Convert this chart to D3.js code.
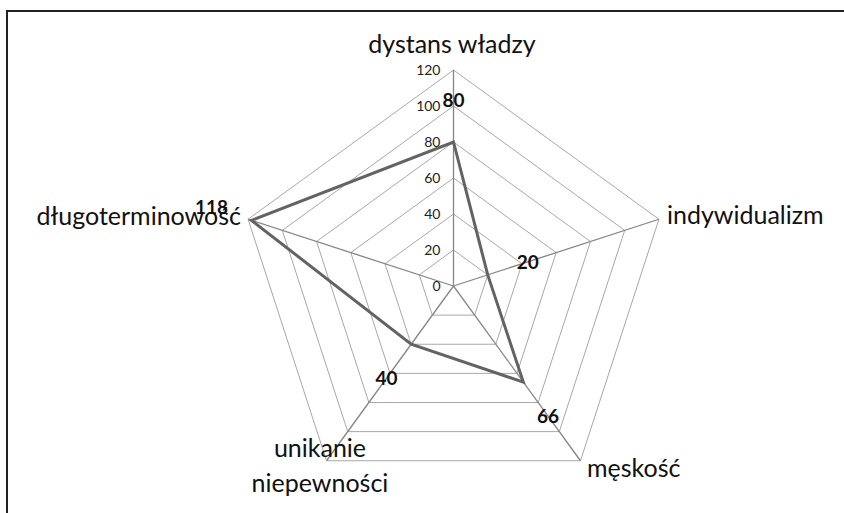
<!DOCTYPE html>
<html>
<head>
<meta charset="utf-8">
<script src="https://cdn.jsdelivr.net/npm/d3@7"></script>
<style>
  body { margin: 0; background: #fff; }
  text { font-family: Lato, "Open Sans", sans-serif; }
</style>
</head>
<body>
<div id="chart"></div>
<script>
// Radar chart - Hofstede dimensions

var categories = ['dystans władzy', 'indywidualizm', 'męskość', 'unikanie niepewności', 'długoterminowość'];
var values = [80, 20, 66, 40, 118];
var tickValues = [0, 20, 40, 60, 80, 100, 120];

var width = 844;
var height = 513;
var cx = 453.5;
var cy = 286;
var radius = 216;

var svg = d3.select('#chart')
    .append('svg')
    .attr('width', width)
    .attr('height', height);

// frame
svg.append('path')
    .attr('d', 'M7,' + height + ' V11 H' + width)
    .attr('fill', 'none')
    .attr('stroke', '#222')
    .attr('stroke-width', 2);

var r = d3.scaleLinear().domain([0, 120]).range([0, radius]);
var angle = d3.scaleLinear().domain([0, categories.length]).range([0, 2 * Math.PI]);

function point(i, v) {
    var a = angle(i);
    return [cx + r(v) * Math.sin(a), cy - r(v) * Math.cos(a)];
}

var g = svg.append('g');

// grid rings
tickValues.slice(1).forEach(function(t) {
    g.append('polygon')
        .attr('points', categories.map(function(c, i) { return point(i, t).join(','); }).join(' '))
        .attr('fill', 'none')
        .attr('stroke', '#a8a8a8')
        .attr('stroke-width', 1);
});

// spokes
categories.forEach(function(c, i) {
    var p = point(i, 120);
    g.append('line')
        .attr('x1', cx).attr('y1', cy)
        .attr('x2', p[0]).attr('y2', p[1])
        .attr('stroke', '#868686')
        .attr('stroke-width', 1.3);
});

// tick labels
g.selectAll('.tick')
    .data(tickValues)
    .enter()
    .append('text')
    .attr('x', cx - 13)
    .attr('y', function(d) { return cy - r(d); })
    .attr('dy', '0.35em')
    .attr('text-anchor', 'end')
    .attr('font-size', 14)
    .attr('fill', '#222')
    .text(function(d) { return d; });

// series line
var line = d3.line().curve(d3.curveLinearClosed);
g.append('path')
    .attr('d', line(values.map(function(v, i) { return point(i, v); })))
    .attr('fill', 'none')
    .attr('stroke', '#636363')
    .attr('stroke-width', 3)
    .attr('stroke-linejoin', 'miter');

// data labels, pushed out along the spoke
values.forEach(function(v, i) {
    var p = point(i, v);
    var a = angle(i);
    g.append('text')
        .attr('x', p[0] + 42 * Math.sin(a))
        .attr('y', p[1] - 42 * Math.cos(a))
        .attr('dy', '0.35em')
        .attr('text-anchor', 'middle')
        .attr('font-size', 19)
        .attr('font-weight', 'bold')
        .attr('fill', '#111')
        .text(v);
});

// category labels
var labelPos = [
    { x: 452, y: 53, anchor: 'middle', lines: ['dystans władzy'] },
    { x: 667, y: 224, anchor: 'start', lines: ['indywidualizm'] },
    { x: 587, y: 477, anchor: 'start', lines: ['męskość'] },
    { x: 320, y: 457, anchor: 'middle', lines: ['unikanie', 'niepewności'] },
    { x: 241, y: 225, anchor: 'end', lines: ['długoterminowość'] }
];

labelPos.forEach(function(lp) {
    var t = g.append('text')
        .attr('x', lp.x)
        .attr('y', lp.y)
        .attr('text-anchor', lp.anchor)
        .attr('font-size', 25)
        .attr('fill', '#111');
    lp.lines.forEach(function(s, k) {
        t.append('tspan')
            .attr('x', lp.x)
            .attr('dy', k === 0 ? 0 : 35)
            .text(s);
    });
});
</script>
</body>
</html>
